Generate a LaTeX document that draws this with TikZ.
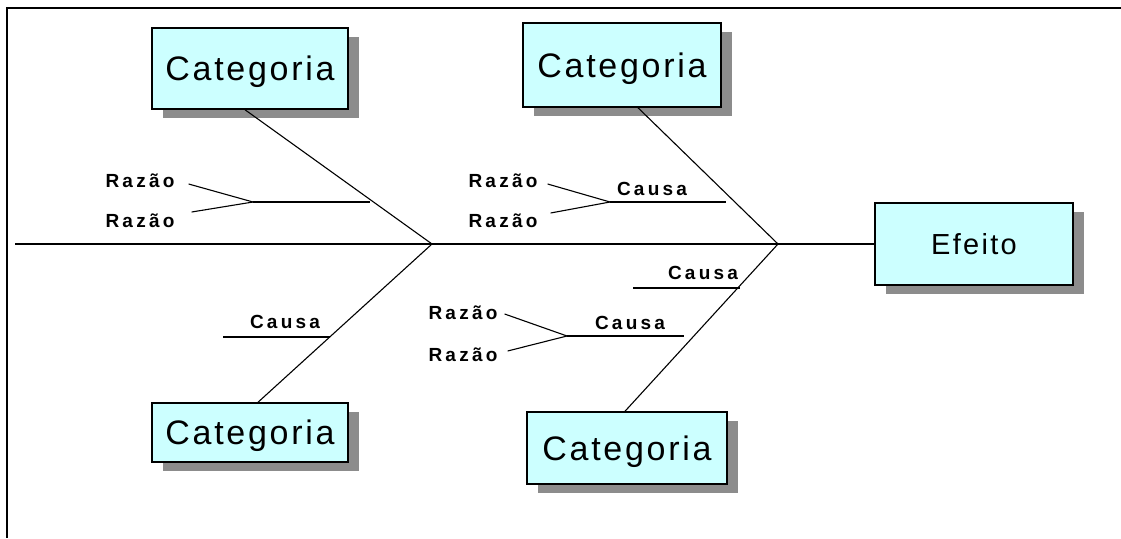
\documentclass[tikz,border=0pt]{standalone}
\usepackage{fontspec}
\setmainfont{Liberation Sans}
\newfontfamily\boxfont{Liberation Sans}[LetterSpace=8]
\newfontfamily\lblfont{Liberation Sans}[LetterSpace=17]
\usetikzlibrary{shadows}
\definecolor{boxcyan}{RGB}{204,255,255}
\definecolor{shadowgray}{RGB}{140,140,140}

\begin{document}
\begin{tikzpicture}[x=1pt,y=-1pt,
  box/.style={draw=black, line width=1.5pt, fill=boxcyan, inner sep=0pt, text depth=0pt,
    font=\boxfont\fontsize{34}{40}\selectfont,
    drop shadow={shadow xshift=11pt, shadow yshift=-9pt, fill=shadowgray, opacity=1}},
  effbox/.style={box, font=\boxfont\fontsize{29}{34}\selectfont},
  spine/.style={line width=1.6pt},
  bone/.style={line width=1.1pt},
  lbl/.style={font=\lblfont\bfseries\fontsize{19}{22}\selectfont, inner sep=0pt}]
\useasboundingbox (0,0) rectangle (1121,538);

% frame
\draw[line width=2pt] (1121,8) -- (7,8) -- (7,538);

% category and effect boxes
\node[box, minimum width=196pt, minimum height=81pt] (catTL) at (250,68.5) {Categoria};
\node[box, minimum width=198pt, minimum height=84pt] (catTR) at (622,65) {Categoria};
\node[box, minimum width=196pt, minimum height=59pt] (catBL) at (250,432.5) {Categoria};
\node[box, minimum width=200pt, minimum height=72pt] (catBR) at (627,448) {Categoria};
\node[effbox, minimum width=198pt, minimum height=82pt] (eff) at (974,244) {Efeito};

% main spine
\coordinate (tail) at (15,244);
\coordinate (jL) at (432,244);
\coordinate (jR) at (778,244);
\draw[spine] (tail) -- (eff.west);

% category bones
\draw[bone] ([xshift=-5pt]catTL.south) -- (jL) -- ([xshift=8pt]catBL.north);
\draw[bone] ([xshift=16pt]catTR.south) -- (jR) -- ([xshift=-2pt]catBR.north);

% left upper cause with two reasons
\coordinate (cA1) at (253,202); \coordinate (cA2) at (370,202);
\draw[bone] (cA1) -- (cA2);
\node[lbl] (rA1) at (140,181) {Razão};
\node[lbl] (rA2) at (140,221) {Razão};
\draw[bone] ([xshift=14pt,yshift=-3pt]rA1.east) -- (cA1);
\draw[bone] ([xshift=17pt,yshift=9pt]rA2.east) -- (cA1);

% left lower cause
\coordinate (cB1) at (223,337); \coordinate (cB2) at (330,337);
\draw[bone] (cB1) -- (cB2);
\node[lbl] (tB) at (285,322) {Causa};

% right upper cause with two reasons
\coordinate (cC1) at (610,202); \coordinate (cC2) at (726,202);
\draw[bone] (cC1) -- (cC2);
\node[lbl] (tC) at (652,189) {Causa};
\node[lbl] (rC1) at (503,181) {Razão};
\node[lbl] (rC2) at (503,221) {Razão};
\draw[bone] ([xshift=10pt,yshift=-3pt]rC1.east) -- (cC1);
\draw[bone] ([xshift=13pt,yshift=8pt]rC2.east) -- (cC1);

% right lower causes
\coordinate (cD1) at (633,288); \coordinate (cD2) at (740,288);
\draw[bone] (cD1) -- (cD2);
\node[lbl] (tD) at (703,273) {Causa};

\coordinate (cE1) at (567,336); \coordinate (cE2) at (684,336);
\draw[bone] (cE1) -- (cE2);
\node[lbl] (tE) at (630,323) {Causa};
\node[lbl] (rE1) at (463,313) {Razão};
\node[lbl] (rE2) at (463,355) {Razão};
\draw[bone] ([xshift=7pt,yshift=-1pt]rE1.east) -- (cE1);
\draw[bone] ([xshift=10pt,yshift=4pt]rE2.east) -- (cE1);
\end{tikzpicture}
\end{document}
